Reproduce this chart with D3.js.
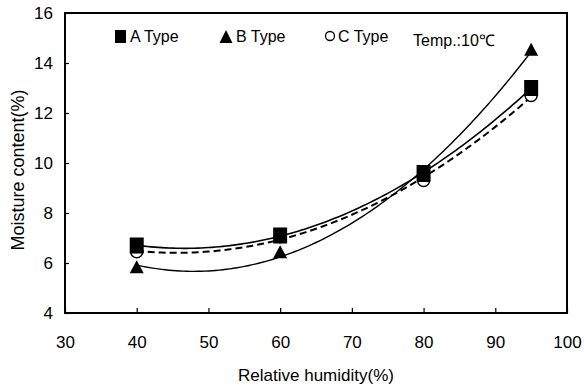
<!DOCTYPE html>
<html>
<head>
<meta charset="utf-8">
<script src="https://cdn.jsdelivr.net/npm/d3@7"></script>
<style>
  body { margin: 0; background: #fff; }
  text { font-family: "Liberation Sans", Arial, sans-serif; fill: #000; }
</style>
</head>
<body>
<svg id="svg"></svg>
<script>
const humidity = [40, 60, 80, 95];
const typeA = [6.7, 7.1, 9.6, 13.0];
const typeB = [5.85, 6.45, 9.5, 14.55];
const typeC = [6.45, 7.05, 9.3, 12.7];
const xTicks = [30, 40, 50, 60, 70, 80, 90, 100];
const yTicks = [4, 6, 8, 10, 12, 14, 16];

const width = 584;
const height = 389;
const margin = {top: 13, right: 17, bottom: 76, left: 65};

const svg = d3.select("#svg")
              .attr("width", width)
              .attr("height", height);

const x = d3.scaleLinear().domain([30, 100]).range([margin.left, width - margin.right]);
const y = d3.scaleLinear().domain([4, 16]).range([height - margin.bottom, margin.top]);

// quadratic least squares trendline, like the spreadsheet one
const quadFit = function(xs, ys) {
  const n = xs.length;
  let s = [0, 0, 0, 0, 0], t = [0, 0, 0];
  for (let i = 0; i < n; i++) {
    for (let k = 0; k < 5; k++) s[k] += Math.pow(xs[i], k);
    for (let k = 0; k < 3; k++) t[k] += ys[i] * Math.pow(xs[i], k);
  }
  const m = [[s[0], s[1], s[2], t[0]], [s[1], s[2], s[3], t[1]], [s[2], s[3], s[4], t[2]]];
  for (let c = 0; c < 3; c++) {
    for (let r = c + 1; r < 3; r++) {
      const f = m[r][c] / m[c][c];
      for (let k = c; k < 4; k++) m[r][k] -= f * m[c][k];
    }
  }
  const co = [0, 0, 0];
  for (let r = 2; r >= 0; r--) {
    let v = m[r][3];
    for (let k = r + 1; k < 3; k++) v -= m[r][k] * co[k];
    co[r] = v / m[r][r];
  }
  return xv => co[0] + co[1] * xv + co[2] * xv * xv;
};

const series = [
  {name: "C", values: typeC, dash: "7,4", width: 2},
  {name: "B", values: typeB, dash: null, width: 1.4},
  {name: "A", values: typeA, dash: null, width: 1.6}
];

const line = d3.line().x(d => x(d[0])).y(d => y(d[1]));

series.forEach(function(s) {
  const f = quadFit(humidity, s.values);
  const pts = d3.range(humidity[0], humidity[humidity.length - 1] + 0.01, 0.5).map(h => [h, f(h)]);
  svg.append("path")
     .attr("d", line(pts))
     .attr("fill", "none")
     .attr("stroke", "#000")
     .attr("stroke-width", s.width)
     .attr("stroke-dasharray", s.dash);
});

const triangle = (cx, cy, w, h) => `M${cx},${cy - h / 2}L${cx + w / 2},${cy + h / 2}L${cx - w / 2},${cy + h / 2}Z`;

svg.append("g")
   .selectAll("circle")
   .data(humidity.map((h, i) => [h, typeC[i]]))
   .enter()
   .append("circle")
   .attr("cx", d => x(d[0]))
   .attr("cy", d => y(d[1]))
   .attr("r", 6)
   .attr("fill", "#fff")
   .attr("stroke", "#000")
   .attr("stroke-width", 1.5);

svg.append("g")
   .selectAll("path")
   .data(humidity.map((h, i) => [h, typeB[i]]))
   .enter()
   .append("path")
   .attr("d", d => triangle(x(d[0]), y(d[1]), 14, 13))
   .attr("fill", "#000");

svg.append("g")
   .selectAll("rect")
   .data(humidity.map((h, i) => [h, typeA[i]]))
   .enter()
   .append("rect")
   .attr("x", d => x(d[0]) - 7)
   .attr("y", d => y(d[1]) - 8)
   .attr("width", 14)
   .attr("height", 16)
   .attr("fill", "#000");

// axes
const yAxis = svg.append("g")
                 .attr("transform", "translate(" + margin.left + ",0)")
                 .call(d3.axisLeft(y).tickValues(yTicks).tickSize(-4).tickPadding(12).tickSizeOuter(0));
const xAxis = svg.append("g")
                 .attr("transform", "translate(0," + (height - margin.bottom) + ")")
                 .call(d3.axisBottom(x).tickValues(xTicks).tickSize(-5).tickPadding(23).tickSizeOuter(0));
[yAxis, xAxis].forEach(function(a) {
  a.select(".domain").remove();
  a.selectAll("line").attr("stroke", "#000").attr("stroke-width", 1.2);
  a.selectAll("text").style("font-size", "17px").attr("font-family", null);
});

svg.append("rect")
   .attr("x", margin.left)
   .attr("y", margin.top)
   .attr("width", width - margin.left - margin.right)
   .attr("height", height - margin.top - margin.bottom)
   .attr("fill", "none")
   .attr("stroke", "#000")
   .attr("stroke-width", 2);

svg.append("text")
   .attr("x", (margin.left + width - margin.right) / 2)
   .attr("y", 381)
   .attr("text-anchor", "middle")
   .style("font-size", "17px")
   .text("Relative humidity(%)");

svg.append("text")
   .attr("transform", "translate(24,170) rotate(-90)")
   .attr("text-anchor", "middle")
   .style("font-size", "18px")
   .text("Moisture content(%)");

// legend
const legend = svg.append("g");
legend.append("rect").attr("x", 115).attr("y", 30).attr("width", 11).attr("height", 13).attr("fill", "#000");
legend.append("text").attr("x", 130).attr("y", 42).style("font-size", "16px").text("A Type");
legend.append("path").attr("d", triangle(226, 36.5, 13, 13)).attr("fill", "#000");
legend.append("text").attr("x", 236).attr("y", 42).style("font-size", "16px").text("B Type");
legend.append("circle").attr("cx", 330).attr("cy", 36).attr("r", 4.5)
      .attr("fill", "#fff").attr("stroke", "#000").attr("stroke-width", 1.3);
legend.append("text").attr("x", 338).attr("y", 42).style("font-size", "16px").text("C Type");
legend.append("text").attr("x", 413).attr("y", 46).style("font-size", "16px").text("Temp.:10℃");
</script>
</body>
</html>
